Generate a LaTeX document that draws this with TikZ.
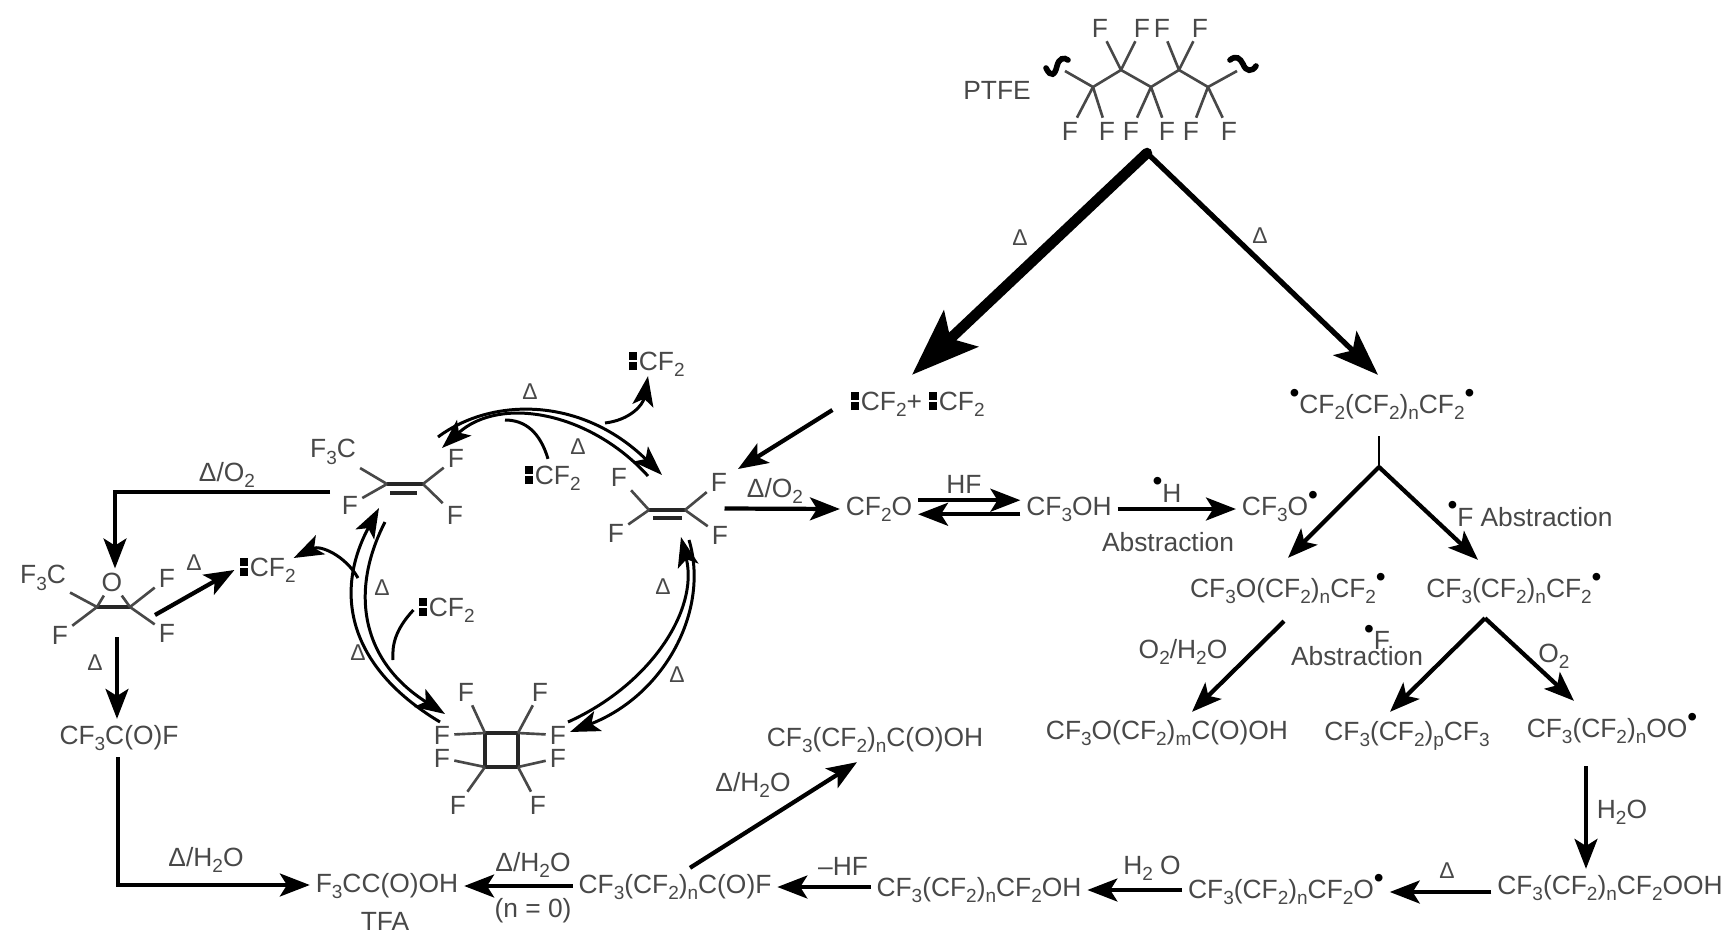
\documentclass[tikz,border=0pt]{standalone}
\usepackage{fontspec}
\setmainfont{Liberation Sans}
\usepackage{xcolor}
\usetikzlibrary{arrows.meta, positioning, calc}
\definecolor{inkgray}{HTML}{484848}
\newcommand{\sbs}[1]{\raisebox{-.45ex}{\fontsize{5.4}{6}\selectfont #1}}
\newcommand{\rad}{\raisebox{.8ex}{\color{black}\fontsize{8}{8}\selectfont\textbullet}}
\newcommand{\lonepair}{{\color{black}\vbox{\offinterlineskip\hbox{\rule{2.2pt}{2.2pt}}\kern.7pt\hbox{\rule{2.2pt}{2.2pt}}}}\kern.5pt}
\begin{document}
\begin{tikzpicture}[x=0.01cm, y=-0.01cm,
    chem/.style={inner sep=1.5pt, text=inkgray, font=\fontsize{7.5}{9}\selectfont, text height=5.5pt, text depth=2pt},
    atom/.style={inner sep=1pt, text=inkgray, font=\fontsize{7.5}{9}\selectfont},
    cond/.style={inner sep=0pt, text=inkgray, font=\fontsize{7.5}{9}\selectfont},
    delta/.style={inner sep=0pt, text=inkgray, font=\fontsize{6.5}{8}\selectfont},
    bond/.style={draw=inkgray, line width=.75pt},
    cc/.style={draw=black!85, line width=1pt},
    rxn/.style={->, >={Stealth[length=8.5pt,width=6.5pt,inset=2pt]}, line width=1.2pt},
    arc/.style={->, >={Stealth[length=8.5pt,width=6pt,inset=2pt]}, line width=.85pt},
    branch/.style={line width=.85pt},
    wave/.style={line width=1.6pt, line cap=round}
]
\useasboundingbox (0,0) rectangle (1723,933);

\node[chem] (ptfe) at (997,93) {PTFE};
\coordinate (p1) at (1093,87);
\coordinate (p2) at (1121,70);
\coordinate (p3) at (1151,87);
\coordinate (p4) at (1179,70);
\coordinate (p5) at (1208,87);
\coordinate (pl) at (1065,71);
\coordinate (pr) at (1237,71);
\node[atom] (ft1) at (1100,28) {F};
\node[atom] (ft2) at (1142,28) {F};
\node[atom] (ft3) at (1162,28) {F};
\node[atom] (ft4) at (1200,28) {F};
\node[atom] (fb1) at (1070,131) {F};
\node[atom] (fb2) at (1107,131) {F};
\node[atom] (fb3) at (1131,131) {F};
\node[atom] (fb4) at (1167,131) {F};
\node[atom] (fb5) at (1191,131) {F};
\node[atom] (fb6) at (1229,131) {F};
\draw[bond] (pl) -- (p1) -- (p2) -- (p3) -- (p4) -- (p5) -- (pr);
\draw[bond] (p2) -- (ft1);
\draw[bond] (p2) -- (ft2);
\draw[bond] (p4) -- (ft3);
\draw[bond] (p4) -- (ft4);
\draw[bond] (p1) -- (fb1);
\draw[bond] (p1) -- (fb2);
\draw[bond] (p3) -- (fb3);
\draw[bond] (p3) -- (fb4);
\draw[bond] (p5) -- (fb5);
\draw[bond] (p5) -- (fb6);
\draw[wave] (1046,68) .. controls (1051,78) and (1055,75) .. (1057,66) .. controls (1059,58) and (1064,57) .. (1068,60);
\draw[wave] (1230,60) .. controls (1236,55) and (1240,58) .. (1243,64) .. controls (1246,72) and (1252,72) .. (1256,66);

\node[chem] (carbenes) at (918,404) {\lonepair CF\sbs{2}+ \lonepair CF\sbs{2}};
\node[chem] (chain) at (1382,407) {\rad CF\sbs{2}(CF\sbs{2})\sbs{n}CF\sbs{2}\rad};
\coordinate (apex) at (1147,153);
\draw[line width=3pt, -{Stealth[length=19pt,width=14pt,inset=4pt]}, line cap=round] (apex) -- ($(carbenes.north)+(-6,-10)$);
\draw[line width=1.5pt, -{Stealth[length=13pt,width=9.5pt,inset=3pt]}, line cap=round] (apex) -- ($(chain.north)+(-4,-13)$);
\node[delta] (d1) at (1020,238) {Δ};
\node[delta] (d2) at (1260,236) {Δ};

% right branch
\node[chem] (ether) at (1288,591) {CF\sbs{3}O(CF\sbs{2})\sbs{n}CF\sbs{2}\rad};
\node[chem] (alkyl) at (1514,591) {CF\sbs{3}(CF\sbs{2})\sbs{n}CF\sbs{2}\rad};
\coordinate (chaintail) at ($(chain.south)+(-3,10)$);
\coordinate (fork) at (1379,467);
\draw[bond, draw=black] (chaintail) -- (fork);
\draw[rxn] (fork) -- ($(ether.north)+(0,-14)$);
\draw[rxn] (fork) -- ($(alkyl.north)+(-36,-12)$);
\node[cond] (fabs) at (1530,514) {\rad F\hspace{2pt}Abstraction};

\node[chem] (acid) at (1167,733) {CF\sbs{3}O(CF\sbs{2})\sbs{m}C(O)OH};
\node[chem] (perfluoro) at (1407,734) {CF\sbs{3}(CF\sbs{2})\sbs{p}CF\sbs{3}};
\node[chem] (peroxy) at (1612,731) {CF\sbs{3}(CF\sbs{2})\sbs{n}OO\rad};
\coordinate (fork2) at ($(alkyl.south)+(-29,8)$);
\draw[rxn] ($(ether.south)+(-4,11)$) -- ($(acid.north)+(25,-2)$);
\draw[rxn] (fork2) -- ($(perfluoro.north)+(-17,-3)$);
\draw[rxn] (fork2) -- ($(peroxy.north)+(-38,-11)$);
\node[cond] (o2h2o) at (1183,652) {O\sbs{2}/H\sbs{2}O};
\node[cond] (fdot) at (1377,637) {\rad F};
\node[cond] (abs2) at (1357,656) {Abstraction};
\node[cond] (o2) at (1554,656) {O\sbs{2}};

\node[chem] (hydroperoxide) at (1610,888) {CF\sbs{3}(CF\sbs{2})\sbs{n}CF\sbs{2}OOH};
\node[chem] (alkoxy) at (1286,892) {CF\sbs{3}(CF\sbs{2})\sbs{n}CF\sbs{2}O\rad};
\node[chem] (alcohol) at (979,890) {CF\sbs{3}(CF\sbs{2})\sbs{n}CF\sbs{2}OH};
\node[chem] (acylf) at (675,887) {CF\sbs{3}(CF\sbs{2})\sbs{n}C(O)F};
\node[chem] (pfca) at (875,740) {CF\sbs{3}(CF\sbs{2})\sbs{n}C(O)OH};
\node[chem] (tfa) at (387,886) {F\sbs{3}CC(O)OH};
\node[cond] (tfalabel) at (385,921) {TFA};
\coordinate (peroxytail) at ($(peroxy.south)+(-26,16)$);
\draw[rxn] (peroxytail) -- (peroxytail |- hydroperoxide.north);
\node[cond] (h2o1) at (1622,812) {H\sbs{2}O};
\draw[rxn] (hydroperoxide.west |- alkoxy.east) -- (alkoxy.east);
\node[delta] (d3) at (1447,871) {Δ};
\draw[rxn] (alkoxy.west |- alcohol.east) -- (alcohol.east);
\node[cond] (h2o2) at (1152,868) {H\sbs{2} O};
\draw[rxn] (alcohol.west |- acylf.east) -- (acylf.east);
\node[cond] (hf2) at (843,866) {--HF};
\draw[rxn] ($(acylf.north)+(15,0)$) -- ($(pfca.south)+(-18,3)$);
\node[cond] (dh2o1) at (753,785) {Δ/H\sbs{2}O};
\draw[rxn] (acylf.west |- tfa.east) -- (tfa.east);
\node[cond] (dh2o2) at (533,865) {Δ/H\sbs{2}O};
\node[cond] (neq) at (533,911) {(n = 0)};

% middle row
\node[chem] (cf2o) at (879,509) {CF\sbs{2}O};
\node[chem] (cf3oh) at (1069,509) {CF\sbs{3}OH};
\node[chem] (cf3o) at (1280,509) {CF\sbs{3}O\rad};
\draw[rxn] ([yshift=2.5pt]cf2o.east) -- ([yshift=2.5pt]cf3oh.west);
\draw[rxn] ([yshift=-1.5pt]cf3oh.west) -- ([yshift=-1.5pt]cf2o.east);
\node[cond] (hf1) at (964,484) {HF};
\draw[rxn] (cf3oh.east) -- (cf3o.west);
\node[cond] (hdot) at (1167,490) {\rad H};
\node[cond] (abs1) at (1168,542) {Abstraction};

% tetrafluoroethylene
\coordinate (t1) at (649,510);
\coordinate (t2) at (685,510);
\node[atom] (tf1) at (619,477) {F};
\node[atom] (tf2) at (616,533) {F};
\node[atom] (tf3) at (719,482) {F};
\node[atom] (tf4) at (720,535) {F};
\draw[cc] (t1) -- (t2);
\draw[cc] (653,518) -- (682,518);
\draw[bond] (t1) -- (tf1);
\draw[bond] (t1) -- (tf2);
\draw[bond] (t2) -- (tf3);
\draw[bond] (t2) -- (tf4);
\draw[rxn] ($(carbenes.west)+(-13,6)$) -- ($(tf3)+(19,-13)$);
\draw[rxn] ($(tf3)!.5!(tf4)+(5,0)$) -- (cf2o.west);
\node[cond] (do2r) at (775,491) {Δ/O\sbs{2}};

% hexafluoropropene
\coordinate (h1) at (387,484);
\coordinate (h2) at (423,484);
\node[atom] (hf3c) at (333,452) {F\sbs{3}C};
\node[atom] (hfa) at (350,505) {F};
\node[atom] (hfb) at (456,458) {F};
\node[atom] (hfc) at (455,515) {F};
\draw[cc] (h1) -- (h2);
\draw[cc] (390,493) -- (417,493);
\draw[bond] (h1) -- (hf3c);
\draw[bond] (h1) -- (hfa);
\draw[bond] (h2) -- (hfb);
\draw[bond] (h2) -- (hfc);

% perfluorocyclobutane
\coordinate (s1) at (485,733);
\coordinate (s2) at (518,733);
\coordinate (s3) at (518,767);
\coordinate (s4) at (485,767);
\node[atom] (sf1) at (466,692) {F};
\node[atom] (sf2) at (540,692) {F};
\node[atom] (sf3) at (442,735) {F};
\node[atom] (sf4) at (442,758) {F};
\node[atom] (sf5) at (558,735) {F};
\node[atom] (sf6) at (558,758) {F};
\node[atom] (sf7) at (458,805) {F};
\node[atom] (sf8) at (538,805) {F};
\draw[cc] (s1) -- (s2) -- (s3) -- (s4) -- cycle;
\draw[bond] (s1) -- (sf1);
\draw[bond] (s2) -- (sf2);
\draw[bond] (s1) -- (sf3);
\draw[bond] (s4) -- (sf4);
\draw[bond] (s2) -- (sf5);
\draw[bond] (s3) -- (sf6);
\draw[bond] (s4) -- (sf7);
\draw[bond] (s3) -- (sf8);

% cycle arcs
\coordinate (topa) at ($(hfb)+(-18,-21)$);
\coordinate (topb) at ($(tf1)+(43,-2)$);
\coordinate (topc) at ($(tf1)+(29,-1)$);
\coordinate (topd) at ($(hfb)+(-14,-10)$);
\coordinate (rta) at ($(tf4)+(-31,5)$);
\coordinate (rtb) at ($(sf5)+(12,-3)$);
\coordinate (rtc) at ($(sf5)+(10,-13)$);
\coordinate (rtd) at ($(tf4)+(-39,2)$);
\coordinate (lfa) at ($(hfa)+(35,17)$);
\coordinate (lfb) at ($(sf3)+(3,-21)$);
\coordinate (lfc) at ($(sf3)+(-2,-13)$);
\coordinate (lfd) at ($(hfa)+(29,3)$);
\draw[arc] (topa) .. controls (490,398) and (580,395) .. (topb);
\draw[arc] (topc) .. controls (590,412) and (500,395) .. (topd);
\draw[arc] (rta) .. controls (710,610) and (665,695) .. (rtb);
\draw[arc] (rtc) .. controls (650,685) and (699,610) .. (rtd);
\draw[arc] (lfa) .. controls (350,590) and (360,660) .. (lfb);
\draw[arc] (lfc) .. controls (345,665) and (335,590) .. (lfd);

\node[chem] (carbene1) at (657,364) {\lonepair CF\sbs{2}};
\node[chem] (carbene2) at (553,478) {\lonepair CF\sbs{2}};
\node[chem] (carbene3) at (447,610) {\lonepair CF\sbs{2}};
\node[chem] (carbene4) at (268,570) {\lonepair CF\sbs{2}};
\draw[arc] (605,423) .. controls (630,420) and (643,405) .. ($(carbene1.south)+(-9,-7)$);
\draw[branch] ($(carbene2.north)+(-5,0)$) .. controls (540,432) and (525,420) .. (505,420);
\draw[branch] (carbene3.west) .. controls (395,630) and (392,645) .. (393,660);
\draw[arc] (358,578) .. controls (345,555) and (320,545) .. ($(carbene4.east)+(-8,-12)$);
\node[delta] (d4) at (530,392) {Δ};
\node[delta] (d5) at (578,447) {Δ};
\node[delta] (d6) at (382,588) {Δ};
\node[delta] (d7) at (358,653) {Δ};
\node[delta] (d8) at (663,587) {Δ};
\node[delta] (d9) at (677,675) {Δ};

% epoxide
\coordinate (e1) at (97,607);
\coordinate (e2) at (130,607);
\node[atom] (eo) at (112,582) {O};
\node[atom] (ef3c) at (43,578) {F\sbs{3}C};
\node[atom] (ef1) at (60,635) {F};
\node[atom] (ef2) at (167,578) {F};
\node[atom] (ef3) at (167,633) {F};
\draw[cc] (e1) -- (e2);
\draw[bond] (e1) -- (eo);
\draw[bond] (e2) -- (eo);
\draw[bond] (e1) -- (ef3c);
\draw[bond] (e1) -- (ef1);
\draw[bond] (e2) -- (ef2);
\draw[bond] (e2) -- (ef3);
\coordinate (oxstart) at ($(hfa)+(-20,-13)$);
\coordinate (oxturn) at (115,492);
\draw[rxn] (oxstart) -- (oxturn) -- (oxturn |- eo.north);
\node[cond] (do2l) at (227,475) {Δ/O\sbs{2}};
\draw[rxn] ($(ef3)+(-12,-18)$) -- (carbene4.west);
\node[delta] (d10) at (194,563) {Δ};
\node[chem] (cf3cof) at (119,738) {CF\sbs{3}C(O)F};
\coordinate (epoxbase) at (117,637);
\draw[rxn] (epoxbase) -- (epoxbase |- cf3cof.north);
\node[delta] (d11) at (95,663) {Δ};
\coordinate (corner) at (118,885);
\draw[rxn] (corner |- cf3cof.south) -- (corner) -- (corner -| tfa.west);
\node[cond] (dh2o3) at (206,860) {Δ/H\sbs{2}O};
\end{tikzpicture}
\end{document}
